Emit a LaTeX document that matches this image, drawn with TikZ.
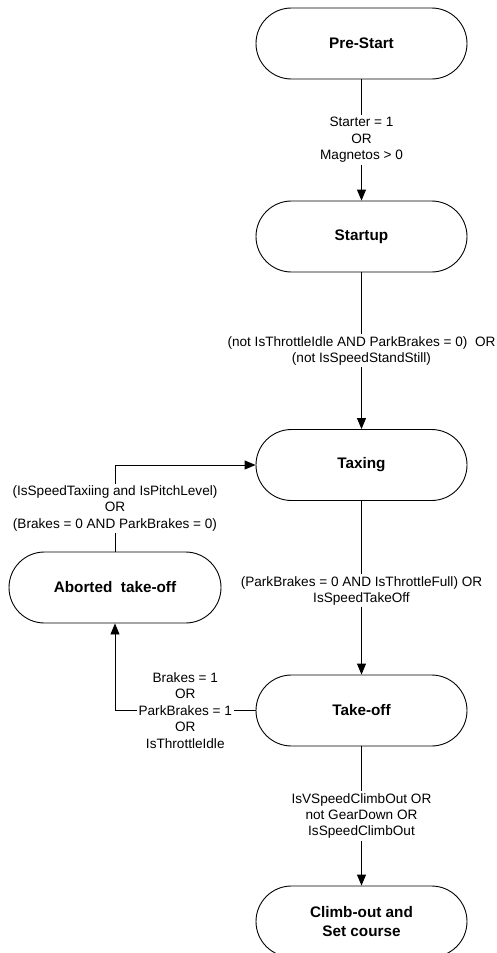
\documentclass[tikz,border=0pt]{standalone}
\usepackage{fontspec}
\setmainfont{Liberation Sans}
\usetikzlibrary{arrows.meta}
\begin{document}
\begin{tikzpicture}[x=1pt,y=-1pt,
  state/.style={draw=black, line width=0.9pt, rectangle, rounded corners=35.5pt,
    minimum width=211pt, minimum height=71pt, align=center,
    font=\fontsize{15.3}{18.8}\selectfont\bfseries},
  cond/.style={fill=white, inner sep=2pt, align=center,
    font=\fontsize{13.6}{16.4}\selectfont},
  trans/.style={draw=black, line width=0.9pt,
    -{Triangle[width=9pt,length=11pt]}},
  plain/.style={draw=black, line width=0.9pt}]
\useasboundingbox (0,0) rectangle (497,953);

% states
\node[state] (pre)     at (361.5,43.5)  {Pre-Start};
\node[state] (startup) at (361.5,236.5) {Startup};
\node[state] (taxing)  at (361.5,465)   {Taxing};
\node[state, minimum width=212pt] (aborted) at (115,587.5) {Aborted\ \ take-off};
\node[state] (takeoff) at (361.5,710.5) {Take-off};
\node[state] (climb)   at (361.5,921.5) {Climb-out and\\Set course};

% transitions
\draw[trans] (pre) -- node[cond] {Starter = 1\\OR\\Magnetos > 0} (startup);
\draw[trans] (startup) -- node[cond]
  {(not IsThrottleIdle AND ParkBrakes = 0)\ \ OR\\(not IsSpeedStandStill)} (taxing);
\draw[trans] (taxing) -- node[cond, yshift=-3pt]
  {(ParkBrakes = 0 AND IsThrottleFull) OR\\IsSpeedTakeOff} (takeoff);
\draw[trans] (takeoff) -- node[cond]
  {IsVSpeedClimbOut OR\\not GearDown OR\\IsSpeedClimbOut} (climb);

% back to taxing after an aborted take-off
\coordinate (abtop) at (aborted.north |- taxing.west);
\draw[plain] (aborted.north) -- node[cond]
  {(IsSpeedTaxiing and IsPitchLevel)\\OR\\(Brakes = 0 AND ParkBrakes = 0)} (abtop);
\draw[trans] (abtop) -- (taxing.west);

% aborting the take-off
\coordinate (tocorner) at (aborted.south |- takeoff.west);
\draw[plain] (takeoff.west) -- node[cond]
  {Brakes = 1\\OR\\ParkBrakes = 1\\OR\\IsThrottleIdle} (tocorner);
\draw[trans] (tocorner) -- (aborted.south);
\end{tikzpicture}
\end{document}
